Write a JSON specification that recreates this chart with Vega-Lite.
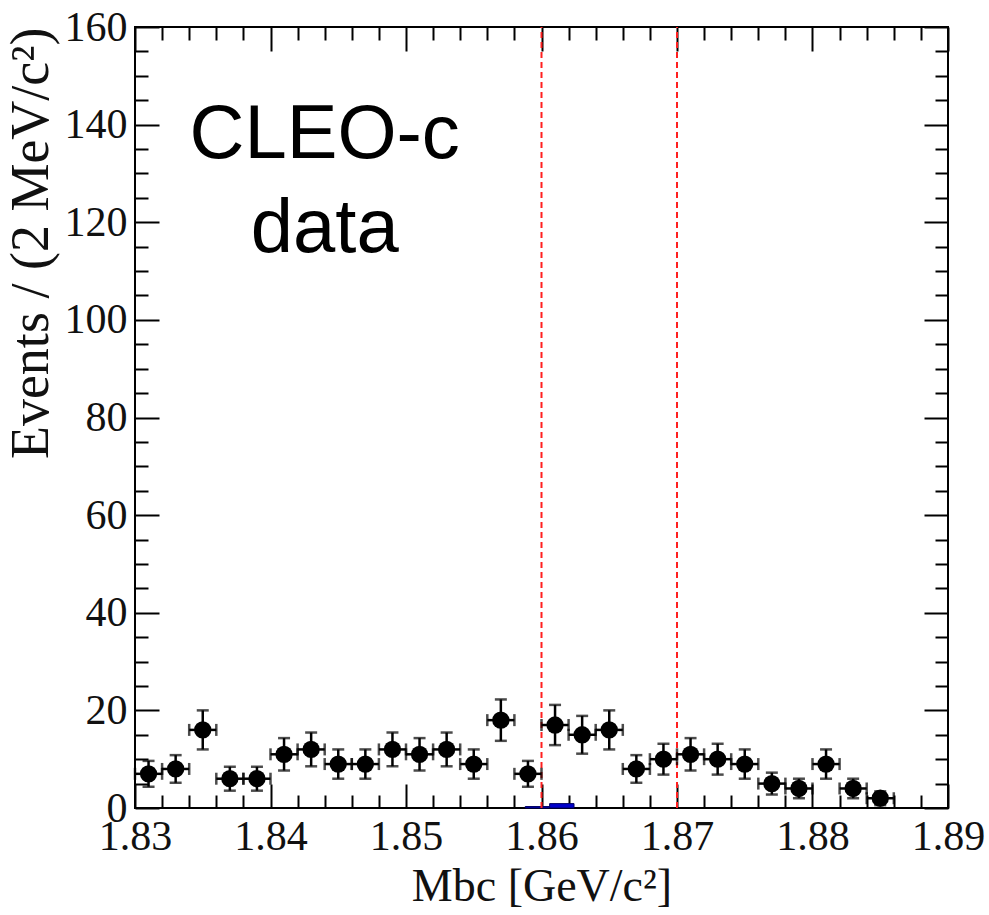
{
  "$schema": "https://vega.github.io/schema/vega-lite/v6.json",
  "width": 813,
  "height": 781,
  "autosize": {"type": "none"},
  "padding": {"left": 135, "top": 27, "right": 41, "bottom": 107},
  "background": "white",
  "config": {
    "view": {"stroke": "black", "strokeWidth": 2},
    "axis": {
      "domain": false,
      "grid": false,
      "tickColor": "black",
      "tickWidth": 2,
      "labelFont": "Liberation Serif",
      "labelFontSize": 42,
      "labelColor": "#111",
      "titleFont": "Liberation Serif",
      "titleFontSize": 46,
      "titleFontWeight": "normal",
      "titleColor": "#111",
      "labelPadding": 32
    }
  },
  "datasets": {
    "bins": [
      {"x": 1.831, "n": 7, "lo": 4.35, "hi": 9.65, "xlo": 1.830, "xhi": 1.832},
      {"x": 1.833, "n": 8, "lo": 5.17, "hi": 10.83, "xlo": 1.832, "xhi": 1.834},
      {"x": 1.835, "n": 16, "lo": 12, "hi": 20, "xlo": 1.834, "xhi": 1.836},
      {"x": 1.837, "n": 6, "lo": 3.55, "hi": 8.45, "xlo": 1.836, "xhi": 1.838},
      {"x": 1.839, "n": 6, "lo": 3.55, "hi": 8.45, "xlo": 1.838, "xhi": 1.840},
      {"x": 1.841, "n": 11, "lo": 7.68, "hi": 14.32, "xlo": 1.840, "xhi": 1.842},
      {"x": 1.843, "n": 12, "lo": 8.54, "hi": 15.46, "xlo": 1.842, "xhi": 1.844},
      {"x": 1.845, "n": 9, "lo": 6, "hi": 12, "xlo": 1.844, "xhi": 1.846},
      {"x": 1.847, "n": 9, "lo": 6, "hi": 12, "xlo": 1.846, "xhi": 1.848},
      {"x": 1.849, "n": 12, "lo": 8.54, "hi": 15.46, "xlo": 1.848, "xhi": 1.850},
      {"x": 1.851, "n": 11, "lo": 7.68, "hi": 14.32, "xlo": 1.850, "xhi": 1.852},
      {"x": 1.853, "n": 12, "lo": 8.54, "hi": 15.46, "xlo": 1.852, "xhi": 1.854},
      {"x": 1.855, "n": 9, "lo": 6, "hi": 12, "xlo": 1.854, "xhi": 1.856},
      {"x": 1.857, "n": 18, "lo": 13.76, "hi": 22.24, "xlo": 1.856, "xhi": 1.858},
      {"x": 1.859, "n": 7, "lo": 4.35, "hi": 9.65, "xlo": 1.858, "xhi": 1.860},
      {"x": 1.861, "n": 17, "lo": 12.88, "hi": 21.12, "xlo": 1.860, "xhi": 1.862},
      {"x": 1.863, "n": 15, "lo": 11.13, "hi": 18.87, "xlo": 1.862, "xhi": 1.864},
      {"x": 1.865, "n": 16, "lo": 12, "hi": 20, "xlo": 1.864, "xhi": 1.866},
      {"x": 1.867, "n": 8, "lo": 5.17, "hi": 10.83, "xlo": 1.866, "xhi": 1.868},
      {"x": 1.869, "n": 10, "lo": 6.84, "hi": 13.16, "xlo": 1.868, "xhi": 1.870},
      {"x": 1.871, "n": 11, "lo": 7.68, "hi": 14.32, "xlo": 1.870, "xhi": 1.872},
      {"x": 1.873, "n": 10, "lo": 6.84, "hi": 13.16, "xlo": 1.872, "xhi": 1.874},
      {"x": 1.875, "n": 9, "lo": 6, "hi": 12, "xlo": 1.874, "xhi": 1.876},
      {"x": 1.877, "n": 5, "lo": 2.76, "hi": 7.24, "xlo": 1.876, "xhi": 1.878},
      {"x": 1.879, "n": 4, "lo": 2, "hi": 6, "xlo": 1.878, "xhi": 1.880},
      {"x": 1.881, "n": 9, "lo": 6, "hi": 12, "xlo": 1.880, "xhi": 1.882},
      {"x": 1.883, "n": 4, "lo": 2, "hi": 6, "xlo": 1.882, "xhi": 1.884},
      {"x": 1.885, "n": 2, "lo": 0.59, "hi": 3.41, "xlo": 1.884, "xhi": 1.886}
    ],
    "mc": [
      {"x1": 1.8588, "x2": 1.8606, "h": 0.3},
      {"x1": 1.8606, "x2": 1.8624, "h": 0.9}
    ],
    "cuts": [{"cut": 1.86}, {"cut": 1.87}]
  },
  "resolve": {"axis": {"x": "independent", "y": "independent"}},
  "layer": [
    {
      "data": {"name": "mc"},
      "mark": {"type": "rect", "fill": "#0000cc", "stroke": "#000066", "strokeWidth": 1},
      "encoding": {
        "x": {
          "field": "x1", "type": "quantitative",
          "scale": {"domain": [1.83, 1.89], "nice": false, "zero": false},
          "axis": {
            "orient": "bottom",
            "title": "Mbc [GeV/c²]",
            "titlePadding": -4,
            "values": [1.83,1.832,1.834,1.836,1.838,1.84,1.842,1.844,1.846,1.848,1.85,1.852,1.854,1.856,1.858,1.86,1.862,1.864,1.866,1.868,1.87,1.872,1.874,1.876,1.878,1.88,1.882,1.884,1.886,1.888,1.89],
            "format": ".2f",
            "labelExpr": "abs(datum.value*100 - round(datum.value*100)) < 0.001 ? datum.label : ''",
            "labelFlush": false,
            "labelOverlap": false,
            "tickSize": {"condition": {"test": "abs(datum.value*100 - round(datum.value*100)) < 0.001", "value": -24}, "value": -13}
          }
        },
        "x2": {"field": "x2"},
        "y": {
          "field": "h", "type": "quantitative",
          "scale": {"domain": [0, 160], "nice": false},
          "axis": {
            "orient": "left",
            "title": "Events / (2 MeV/c²)",
            "titleFontSize": 54,
            "titleAnchor": "end",
            "titlePadding": 6,
            "values": [0,5,10,15,20,25,30,35,40,45,50,55,60,65,70,75,80,85,90,95,100,105,110,115,120,125,130,135,140,145,150,155,160],
            "labelExpr": "datum.value % 20 === 0 ? datum.label : ''",
            "labelFlush": false,
            "labelOverlap": false,
            "tickSize": {"condition": {"test": "datum.value % 20 === 0", "value": -24}, "value": -13}
          }
        },
        "y2": {"datum": 0}
      }
    },
    {
      "data": {"name": "cuts"},
      "mark": {"type": "rule", "color": "#ff2020", "strokeWidth": 2, "strokeDash": [6, 4]},
      "encoding": {
        "x": {
          "field": "cut", "type": "quantitative",
          "axis": {
            "orient": "top",
            "title": null,
            "labels": false,
            "values": [1.83,1.832,1.834,1.836,1.838,1.84,1.842,1.844,1.846,1.848,1.85,1.852,1.854,1.856,1.858,1.86,1.862,1.864,1.866,1.868,1.87,1.872,1.874,1.876,1.878,1.88,1.882,1.884,1.886,1.888,1.89],
            "tickSize": {"condition": {"test": "abs(datum.value*100 - round(datum.value*100)) < 0.001", "value": -24}, "value": -13}
          }
        },
        "y": {
          "datum": 0, "type": "quantitative",
          "axis": {
            "orient": "right",
            "title": null,
            "labels": false,
            "values": [0,5,10,15,20,25,30,35,40,45,50,55,60,65,70,75,80,85,90,95,100,105,110,115,120,125,130,135,140,145,150,155,160],
            "tickSize": {"condition": {"test": "datum.value % 20 === 0", "value": -24}, "value": -13}
          }
        },
        "y2": {"datum": 160}
      }
    },
    {
      "data": {"name": "bins"},
      "mark": {"type": "errorbar", "color": "black", "thickness": 2.5, "ticks": {"size": 12}},
      "encoding": {
        "x": {"field": "xlo", "type": "quantitative", "axis": null},
        "x2": {"field": "xhi"},
        "y": {"field": "n", "type": "quantitative", "axis": null}
      }
    },
    {
      "data": {"name": "bins"},
      "mark": {"type": "errorbar", "color": "black", "thickness": 2.5, "ticks": {"size": 12}},
      "encoding": {
        "x": {"field": "x", "type": "quantitative", "axis": null},
        "y": {"field": "lo", "type": "quantitative", "axis": null},
        "y2": {"field": "hi"}
      }
    },
    {
      "data": {"name": "bins"},
      "mark": {"type": "circle", "color": "black", "opacity": 1, "size": 300},
      "encoding": {
        "x": {"field": "x", "type": "quantitative", "axis": null},
        "y": {"field": "n", "type": "quantitative", "axis": null}
      }
    },
    {
      "data": {"values": [{"label": "CLEO-c"}]},
      "mark": {"type": "text", "font": "Liberation Sans", "fontSize": 76, "align": "center", "baseline": "alphabetic", "lineHeight": 94, "color": "black"},
      "encoding": {
        "x": {"datum": 1.844, "type": "quantitative", "axis": null},
        "y": {"datum": 133.2, "type": "quantitative", "axis": null},
        "text": {"value": ["CLEO-c", "data"]}
      }
    }
  ]
}
